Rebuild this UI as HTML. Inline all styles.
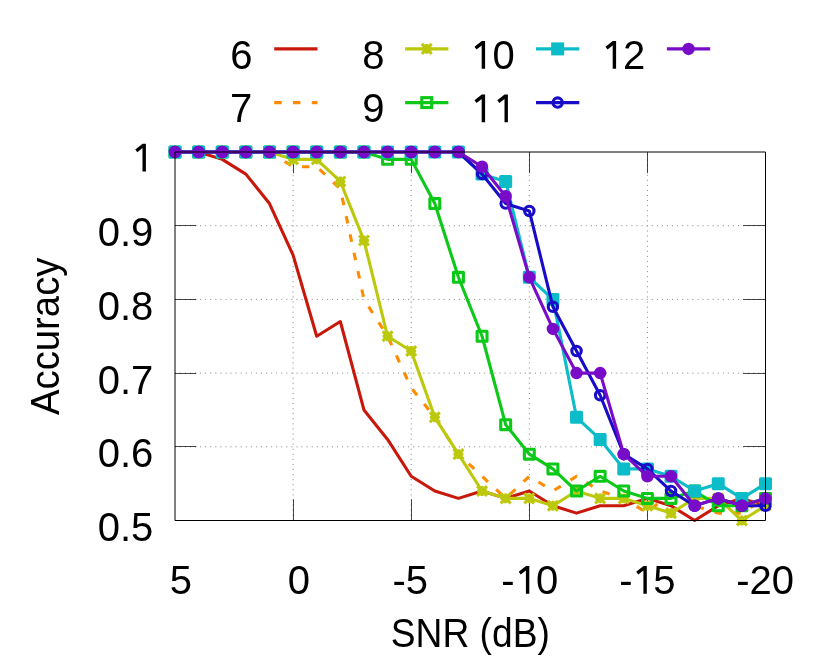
<!DOCTYPE html>
<html><head><meta charset="utf-8"><title>Accuracy vs SNR</title>
<style>
html,body{margin:0;padding:0;background:#fff;}
body{width:830px;height:664px;overflow:hidden;}
svg{display:block;will-change:transform;}
text{font-family:"Liberation Sans",sans-serif;font-size:40px;fill:#000;}
</style></head><body>
<svg width="830" height="664" viewBox="0 0 830 664">
<rect width="830" height="664" fill="#fff"/>

<g stroke="#828282" stroke-width="1" stroke-dasharray="1 4.075" stroke-dashoffset="0.3" fill="none">
<path d="M175.0 225.7H765.5"/>
<path d="M175.0 299.4H765.5"/>
<path d="M175.0 373.1H765.5"/>
<path d="M175.0 446.8H765.5"/>
<path d="M293.1 520.5V152.0"/>
<path d="M411.2 520.5V152.0"/>
<path d="M529.3 520.5V152.0"/>
<path d="M647.4 520.5V152.0"/>
</g>
<g stroke="#000" stroke-width="0.72" fill="none">
<path d="M175.0 225.5h21.3M765.5 225.5h-22.3"/>
<path d="M175.0 299.5h21.3M765.5 299.5h-22.3"/>
<path d="M175.0 373.5h21.3M765.5 373.5h-22.3"/>
<path d="M175.0 446.5h21.3M765.5 446.5h-22.3"/>
<path d="M293.5 520.5v-21.2M293.5 152.0v21.2"/>
<path d="M411.5 520.5v-21.2M411.5 152.0v21.2"/>
<path d="M529.5 520.5v-21.2M529.5 152.0v21.2"/>
<path d="M647.5 520.5v-21.2M647.5 152.0v21.2"/>
</g>
<g stroke="#c8180c" stroke-width="3.1" fill="none" stroke-linejoin="round">
<polyline points="175.00,152.00 198.62,152.00 222.24,159.37 245.86,174.11 269.48,203.59 293.10,255.18 316.72,336.25 340.34,321.51 363.96,409.95 387.58,439.43 411.20,476.28 434.82,491.02 458.44,498.39 482.06,491.02 505.68,498.39 529.30,491.02 552.92,505.76 576.54,513.13 600.16,505.76 623.78,505.76 647.40,498.39 671.02,505.76 694.64,520.50 718.26,505.76 741.88,498.39 765.50,505.76"/>

</g>
<g stroke="#ff8c00" stroke-width="3.1" fill="none" stroke-linejoin="round">
<polyline points="175.00,152.00 198.62,152.00 222.24,152.00 245.86,152.00 269.48,152.00 293.10,166.74 316.72,166.74 340.34,188.85 363.96,299.40 387.58,336.25 411.20,387.84 434.82,417.32 458.44,454.17 482.06,476.28 505.68,498.39 529.30,476.28 552.92,491.02 576.54,476.28 600.16,491.02 623.78,498.39 647.40,513.13 671.02,491.02 694.64,505.76 718.26,513.13 741.88,513.13 765.50,498.39" stroke-dasharray="7.5 11.26" stroke-dashoffset="0.2"/>

</g>
<g stroke="#bcc80c" stroke-width="3.1" fill="none" stroke-linejoin="round">
<polyline points="175.00,152.00 198.62,152.00 222.24,152.00 245.86,152.00 269.48,152.00 293.10,159.37 316.72,159.37 340.34,181.48 363.96,240.44 387.58,336.25 411.20,350.99 434.82,417.32 458.44,454.17 482.06,491.02 505.68,498.39 529.30,498.39 552.92,505.76 576.54,491.02 600.16,498.39 623.78,498.39 647.40,505.76 671.02,513.13 694.64,498.39 718.26,498.39 741.88,520.50 765.50,505.76"/>
<path d="M170.05 152.00H179.95M175.00 147.05V156.95M170.05 147.05L179.95 156.95M170.05 156.95L179.95 147.05"/><path d="M193.67 152.00H203.57M198.62 147.05V156.95M193.67 147.05L203.57 156.95M193.67 156.95L203.57 147.05"/><path d="M217.29 152.00H227.19M222.24 147.05V156.95M217.29 147.05L227.19 156.95M217.29 156.95L227.19 147.05"/><path d="M240.91 152.00H250.81M245.86 147.05V156.95M240.91 147.05L250.81 156.95M240.91 156.95L250.81 147.05"/><path d="M264.53 152.00H274.43M269.48 147.05V156.95M264.53 147.05L274.43 156.95M264.53 156.95L274.43 147.05"/><path d="M288.15 159.37H298.05M293.10 154.42V164.32M288.15 154.42L298.05 164.32M288.15 164.32L298.05 154.42"/><path d="M311.77 159.37H321.67M316.72 154.42V164.32M311.77 154.42L321.67 164.32M311.77 164.32L321.67 154.42"/><path d="M335.39 181.48H345.29M340.34 176.53V186.43M335.39 176.53L345.29 186.43M335.39 186.43L345.29 176.53"/><path d="M359.01 240.44H368.91M363.96 235.49V245.39M359.01 235.49L368.91 245.39M359.01 245.39L368.91 235.49"/><path d="M382.63 336.25H392.53M387.58 331.30V341.20M382.63 331.30L392.53 341.20M382.63 341.20L392.53 331.30"/><path d="M406.25 350.99H416.15M411.20 346.04V355.94M406.25 346.04L416.15 355.94M406.25 355.94L416.15 346.04"/><path d="M429.87 417.32H439.77M434.82 412.37V422.27M429.87 412.37L439.77 422.27M429.87 422.27L439.77 412.37"/><path d="M453.49 454.17H463.39M458.44 449.22V459.12M453.49 449.22L463.39 459.12M453.49 459.12L463.39 449.22"/><path d="M477.11 491.02H487.01M482.06 486.07V495.97M477.11 486.07L487.01 495.97M477.11 495.97L487.01 486.07"/><path d="M500.73 498.39H510.63M505.68 493.44V503.34M500.73 493.44L510.63 503.34M500.73 503.34L510.63 493.44"/><path d="M524.35 498.39H534.25M529.30 493.44V503.34M524.35 493.44L534.25 503.34M524.35 503.34L534.25 493.44"/><path d="M547.97 505.76H557.87M552.92 500.81V510.71M547.97 500.81L557.87 510.71M547.97 510.71L557.87 500.81"/><path d="M571.59 491.02H581.49M576.54 486.07V495.97M571.59 486.07L581.49 495.97M571.59 495.97L581.49 486.07"/><path d="M595.21 498.39H605.11M600.16 493.44V503.34M595.21 493.44L605.11 503.34M595.21 503.34L605.11 493.44"/><path d="M618.83 498.39H628.73M623.78 493.44V503.34M618.83 493.44L628.73 503.34M618.83 503.34L628.73 493.44"/><path d="M642.45 505.76H652.35M647.40 500.81V510.71M642.45 500.81L652.35 510.71M642.45 510.71L652.35 500.81"/><path d="M666.07 513.13H675.97M671.02 508.18V518.08M666.07 508.18L675.97 518.08M666.07 518.08L675.97 508.18"/><path d="M689.69 498.39H699.59M694.64 493.44V503.34M689.69 493.44L699.59 503.34M689.69 503.34L699.59 493.44"/><path d="M713.31 498.39H723.21M718.26 493.44V503.34M713.31 493.44L723.21 503.34M713.31 503.34L723.21 493.44"/><path d="M736.93 520.50H746.83M741.88 515.55V525.45M736.93 515.55L746.83 525.45M736.93 525.45L746.83 515.55"/><path d="M760.55 505.76H770.45M765.50 500.81V510.71M760.55 500.81L770.45 510.71M760.55 510.71L770.45 500.81"/>
</g>
<g stroke="#0cc818" stroke-width="3.1" fill="none" stroke-linejoin="round">
<polyline points="175.00,152.00 198.62,152.00 222.24,152.00 245.86,152.00 269.48,152.00 293.10,152.00 316.72,152.00 340.34,152.00 363.96,152.00 387.58,159.37 411.20,159.37 434.82,203.59 458.44,277.29 482.06,336.25 505.68,424.69 529.30,454.17 552.92,468.91 576.54,491.02 600.16,476.28 623.78,491.02 647.40,498.39 671.02,498.39 694.64,491.02 718.26,505.76 741.88,505.76 765.50,498.39"/>
<rect x="170.05" y="147.05" width="9.90" height="9.90" fill="none"/><rect x="193.67" y="147.05" width="9.90" height="9.90" fill="none"/><rect x="217.29" y="147.05" width="9.90" height="9.90" fill="none"/><rect x="240.91" y="147.05" width="9.90" height="9.90" fill="none"/><rect x="264.53" y="147.05" width="9.90" height="9.90" fill="none"/><rect x="288.15" y="147.05" width="9.90" height="9.90" fill="none"/><rect x="311.77" y="147.05" width="9.90" height="9.90" fill="none"/><rect x="335.39" y="147.05" width="9.90" height="9.90" fill="none"/><rect x="359.01" y="147.05" width="9.90" height="9.90" fill="none"/><rect x="382.63" y="154.42" width="9.90" height="9.90" fill="none"/><rect x="406.25" y="154.42" width="9.90" height="9.90" fill="none"/><rect x="429.87" y="198.64" width="9.90" height="9.90" fill="none"/><rect x="453.49" y="272.34" width="9.90" height="9.90" fill="none"/><rect x="477.11" y="331.30" width="9.90" height="9.90" fill="none"/><rect x="500.73" y="419.74" width="9.90" height="9.90" fill="none"/><rect x="524.35" y="449.22" width="9.90" height="9.90" fill="none"/><rect x="547.97" y="463.96" width="9.90" height="9.90" fill="none"/><rect x="571.59" y="486.07" width="9.90" height="9.90" fill="none"/><rect x="595.21" y="471.33" width="9.90" height="9.90" fill="none"/><rect x="618.83" y="486.07" width="9.90" height="9.90" fill="none"/><rect x="642.45" y="493.44" width="9.90" height="9.90" fill="none"/><rect x="666.07" y="493.44" width="9.90" height="9.90" fill="none"/><rect x="689.69" y="486.07" width="9.90" height="9.90" fill="none"/><rect x="713.31" y="500.81" width="9.90" height="9.90" fill="none"/><rect x="736.93" y="500.81" width="9.90" height="9.90" fill="none"/><rect x="760.55" y="493.44" width="9.90" height="9.90" fill="none"/>
</g>
<g stroke="#0cbcc8" stroke-width="3.1" fill="none" stroke-linejoin="round">
<polyline points="175.00,152.00 198.62,152.00 222.24,152.00 245.86,152.00 269.48,152.00 293.10,152.00 316.72,152.00 340.34,152.00 363.96,152.00 387.58,152.00 411.20,152.00 434.82,152.00 458.44,152.00 482.06,174.11 505.68,181.48 529.30,277.29 552.92,299.40 576.54,417.32 600.16,439.43 623.78,468.91 647.40,468.91 671.02,476.28 694.64,491.02 718.26,483.65 741.88,498.39 765.50,483.65"/>
<rect x="170.05" y="147.05" width="9.90" height="9.90" fill="#0cbcc8"/><rect x="193.67" y="147.05" width="9.90" height="9.90" fill="#0cbcc8"/><rect x="217.29" y="147.05" width="9.90" height="9.90" fill="#0cbcc8"/><rect x="240.91" y="147.05" width="9.90" height="9.90" fill="#0cbcc8"/><rect x="264.53" y="147.05" width="9.90" height="9.90" fill="#0cbcc8"/><rect x="288.15" y="147.05" width="9.90" height="9.90" fill="#0cbcc8"/><rect x="311.77" y="147.05" width="9.90" height="9.90" fill="#0cbcc8"/><rect x="335.39" y="147.05" width="9.90" height="9.90" fill="#0cbcc8"/><rect x="359.01" y="147.05" width="9.90" height="9.90" fill="#0cbcc8"/><rect x="382.63" y="147.05" width="9.90" height="9.90" fill="#0cbcc8"/><rect x="406.25" y="147.05" width="9.90" height="9.90" fill="#0cbcc8"/><rect x="429.87" y="147.05" width="9.90" height="9.90" fill="#0cbcc8"/><rect x="453.49" y="147.05" width="9.90" height="9.90" fill="#0cbcc8"/><rect x="477.11" y="169.16" width="9.90" height="9.90" fill="#0cbcc8"/><rect x="500.73" y="176.53" width="9.90" height="9.90" fill="#0cbcc8"/><rect x="524.35" y="272.34" width="9.90" height="9.90" fill="#0cbcc8"/><rect x="547.97" y="294.45" width="9.90" height="9.90" fill="#0cbcc8"/><rect x="571.59" y="412.37" width="9.90" height="9.90" fill="#0cbcc8"/><rect x="595.21" y="434.48" width="9.90" height="9.90" fill="#0cbcc8"/><rect x="618.83" y="463.96" width="9.90" height="9.90" fill="#0cbcc8"/><rect x="642.45" y="463.96" width="9.90" height="9.90" fill="#0cbcc8"/><rect x="666.07" y="471.33" width="9.90" height="9.90" fill="#0cbcc8"/><rect x="689.69" y="486.07" width="9.90" height="9.90" fill="#0cbcc8"/><rect x="713.31" y="478.70" width="9.90" height="9.90" fill="#0cbcc8"/><rect x="736.93" y="493.44" width="9.90" height="9.90" fill="#0cbcc8"/><rect x="760.55" y="478.70" width="9.90" height="9.90" fill="#0cbcc8"/>
</g>
<g stroke="#180cc8" stroke-width="3.1" fill="none" stroke-linejoin="round">
<polyline points="175.00,152.00 198.62,152.00 222.24,152.00 245.86,152.00 269.48,152.00 293.10,152.00 316.72,152.00 340.34,152.00 363.96,152.00 387.58,152.00 411.20,152.00 434.82,152.00 458.44,152.00 482.06,174.11 505.68,203.59 529.30,210.96 552.92,306.77 576.54,350.99 600.16,395.21 623.78,454.17 647.40,468.91 671.02,491.02 694.64,505.76 718.26,498.39 741.88,505.76 765.50,505.76"/>
<circle cx="175.00" cy="152.00" r="4.7" fill="none"/><circle cx="198.62" cy="152.00" r="4.7" fill="none"/><circle cx="222.24" cy="152.00" r="4.7" fill="none"/><circle cx="245.86" cy="152.00" r="4.7" fill="none"/><circle cx="269.48" cy="152.00" r="4.7" fill="none"/><circle cx="293.10" cy="152.00" r="4.7" fill="none"/><circle cx="316.72" cy="152.00" r="4.7" fill="none"/><circle cx="340.34" cy="152.00" r="4.7" fill="none"/><circle cx="363.96" cy="152.00" r="4.7" fill="none"/><circle cx="387.58" cy="152.00" r="4.7" fill="none"/><circle cx="411.20" cy="152.00" r="4.7" fill="none"/><circle cx="434.82" cy="152.00" r="4.7" fill="none"/><circle cx="458.44" cy="152.00" r="4.7" fill="none"/><circle cx="482.06" cy="174.11" r="4.7" fill="none"/><circle cx="505.68" cy="203.59" r="4.7" fill="none"/><circle cx="529.30" cy="210.96" r="4.7" fill="none"/><circle cx="552.92" cy="306.77" r="4.7" fill="none"/><circle cx="576.54" cy="350.99" r="4.7" fill="none"/><circle cx="600.16" cy="395.21" r="4.7" fill="none"/><circle cx="623.78" cy="454.17" r="4.7" fill="none"/><circle cx="647.40" cy="468.91" r="4.7" fill="none"/><circle cx="671.02" cy="491.02" r="4.7" fill="none"/><circle cx="694.64" cy="505.76" r="4.7" fill="none"/><circle cx="718.26" cy="498.39" r="4.7" fill="none"/><circle cx="741.88" cy="505.76" r="4.7" fill="none"/><circle cx="765.50" cy="505.76" r="4.7" fill="none"/>
</g>
<g stroke="#780cc8" stroke-width="3.1" fill="none" stroke-linejoin="round">
<polyline points="175.00,152.00 198.62,152.00 222.24,152.00 245.86,152.00 269.48,152.00 293.10,152.00 316.72,152.00 340.34,152.00 363.96,152.00 387.58,152.00 411.20,152.00 434.82,152.00 458.44,152.00 482.06,166.74 505.68,196.22 529.30,277.29 552.92,328.88 576.54,373.10 600.16,373.10 623.78,454.17 647.40,476.28 671.02,476.28 694.64,505.76 718.26,498.39 741.88,505.76 765.50,498.39"/>
<circle cx="175.00" cy="152.00" r="4.7" fill="#780cc8"/><circle cx="198.62" cy="152.00" r="4.7" fill="#780cc8"/><circle cx="222.24" cy="152.00" r="4.7" fill="#780cc8"/><circle cx="245.86" cy="152.00" r="4.7" fill="#780cc8"/><circle cx="269.48" cy="152.00" r="4.7" fill="#780cc8"/><circle cx="293.10" cy="152.00" r="4.7" fill="#780cc8"/><circle cx="316.72" cy="152.00" r="4.7" fill="#780cc8"/><circle cx="340.34" cy="152.00" r="4.7" fill="#780cc8"/><circle cx="363.96" cy="152.00" r="4.7" fill="#780cc8"/><circle cx="387.58" cy="152.00" r="4.7" fill="#780cc8"/><circle cx="411.20" cy="152.00" r="4.7" fill="#780cc8"/><circle cx="434.82" cy="152.00" r="4.7" fill="#780cc8"/><circle cx="458.44" cy="152.00" r="4.7" fill="#780cc8"/><circle cx="482.06" cy="166.74" r="4.7" fill="#780cc8"/><circle cx="505.68" cy="196.22" r="4.7" fill="#780cc8"/><circle cx="529.30" cy="277.29" r="4.7" fill="#780cc8"/><circle cx="552.92" cy="328.88" r="4.7" fill="#780cc8"/><circle cx="576.54" cy="373.10" r="4.7" fill="#780cc8"/><circle cx="600.16" cy="373.10" r="4.7" fill="#780cc8"/><circle cx="623.78" cy="454.17" r="4.7" fill="#780cc8"/><circle cx="647.40" cy="476.28" r="4.7" fill="#780cc8"/><circle cx="671.02" cy="476.28" r="4.7" fill="#780cc8"/><circle cx="694.64" cy="505.76" r="4.7" fill="#780cc8"/><circle cx="718.26" cy="498.39" r="4.7" fill="#780cc8"/><circle cx="741.88" cy="505.76" r="4.7" fill="#780cc8"/><circle cx="765.50" cy="498.39" r="4.7" fill="#780cc8"/>
</g>
<path d="M175.0 152.0V520.5H765.5V152.0Z" stroke="#000" stroke-width="1" fill="none"/>
<g stroke="#c8180c" stroke-width="3.1" fill="none"><path d="M274.2 48.9H317.5"/></g>
<g stroke="#ff8c00" stroke-width="3.1" fill="none"><path d="M274.2 102.6H317.5" stroke-dasharray="7.5 11.26"/></g>
<g stroke="#bcc80c" stroke-width="3.1" fill="none"><path d="M405.1 48.9H448.40000000000003"/><path d="M421.80 48.90H431.70M426.75 43.95V53.85M421.80 43.95L431.70 53.85M421.80 53.85L431.70 43.95"/></g>
<g stroke="#0cc818" stroke-width="3.1" fill="none"><path d="M405.1 102.6H448.40000000000003"/><rect x="421.80" y="97.65" width="9.90" height="9.90" fill="none"/></g>
<g stroke="#0cbcc8" stroke-width="3.1" fill="none"><path d="M536.0 48.9H579.3"/><rect x="552.70" y="43.95" width="9.90" height="9.90" fill="#0cbcc8"/></g>
<g stroke="#180cc8" stroke-width="3.1" fill="none"><path d="M536.0 102.6H579.3"/><circle cx="557.65" cy="102.60" r="4.7" fill="none"/></g>
<g stroke="#780cc8" stroke-width="3.1" fill="none"><path d="M666.9 48.9H710.1999999999999"/><circle cx="688.55" cy="48.90" r="4.7" fill="#780cc8"/></g>
<text id="lg6" x="252.5" y="69.0" text-anchor="end">6</text>
<text id="lg7" x="252.3" y="122.4" text-anchor="end">7</text>
<text id="lg8" x="384.6" y="69.0" text-anchor="end">8</text>
<text id="lg9" x="384.6" y="122.4" text-anchor="end">9</text>
<path d="M485.10 41.10L481.80 41.10L474.50 46.80L476.50 49.60L481.70 45.50L481.70 68.80L485.10 68.80Z" fill="#000"/>
<text x="503.55" y="69.00" text-anchor="middle">0</text>
<path d="M485.10 94.50L481.80 94.50L474.50 100.20L476.50 103.00L481.70 98.90L481.70 122.20L485.10 122.20Z" fill="#000"/>
<path d="M507.90 94.50L504.60 94.50L497.30 100.20L499.30 103.00L504.50 98.90L504.50 122.20L507.90 122.20Z" fill="#000"/>
<path d="M616.10 41.10L612.80 41.10L605.50 46.80L607.50 49.60L612.70 45.50L612.70 68.80L616.10 68.80Z" fill="#000"/>
<text x="634.10" y="69.00" text-anchor="middle">2</text>
<text id="yt0.9" x="153.3" y="246.20" text-anchor="end">0.9</text>
<text id="yt0.8" x="153.3" y="319.90" text-anchor="end">0.8</text>
<text id="yt0.7" x="153.3" y="393.60" text-anchor="end">0.7</text>
<text id="yt0.6" x="153.3" y="467.30" text-anchor="end">0.6</text>
<text id="yt0.5" x="153.3" y="541.00" text-anchor="end">0.5</text>
<path d="M145.90 143.70L142.60 143.70L135.30 149.40L137.30 152.20L142.50 148.10L142.50 171.40L145.90 171.40Z" fill="#000"/>
<text id="xt5" x="180.80" y="594.2" text-anchor="middle">5</text>
<text id="xt0" x="298.80" y="594.2" text-anchor="middle">0</text>
<text id="xt-5" x="410.20" y="594.2" text-anchor="middle">-5</text>
<text id="xt-20" x="765.20" y="594.2" text-anchor="middle">-20</text>
<text x="507.95" y="594.20" text-anchor="middle">-</text>
<path d="M529.30 566.10L526.00 566.10L518.70 571.80L520.70 574.60L525.90 570.50L525.90 593.80L529.30 593.80Z" fill="#000"/>
<text x="547.10" y="594.20" text-anchor="middle">0</text>
<text x="625.85" y="594.20" text-anchor="middle">-</text>
<path d="M646.80 566.10L643.50 566.10L636.20 571.80L638.20 574.60L643.40 570.50L643.40 593.80L646.80 593.80Z" fill="#000"/>
<text x="664.45" y="594.20" text-anchor="middle">5</text>
<text id="xl" x="470.3" y="647.4" text-anchor="middle" textLength="159" lengthAdjust="spacingAndGlyphs">SNR (dB)</text>
<text id="yl" transform="translate(58.7 336.3) rotate(-90)" text-anchor="middle" textLength="157.5" lengthAdjust="spacingAndGlyphs">Accuracy</text>
</svg></body></html>
